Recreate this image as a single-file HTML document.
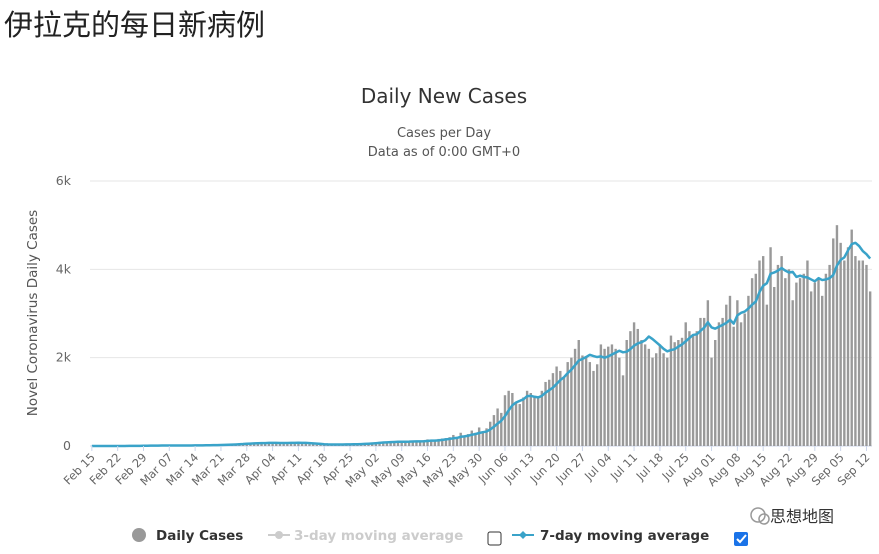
<!DOCTYPE html>
<html><head><meta charset="utf-8"><style>
body{margin:0;background:#fff;width:879px;height:554px;overflow:hidden;font-family:"DejaVu Sans","Noto Sans CJK SC",sans-serif}
</style></head><body>
<div style="position:absolute;left:4px;top:2px;font-size:29px;color:#222;font-family:'Liberation Sans','Noto Sans CJK SC',sans-serif">伊拉克的每日新病例</div>
<svg id="chart" width="879" height="554" style="position:absolute;left:0;top:0;font-family:'DejaVu Sans','Noto Sans CJK SC',sans-serif">
<text x="444" y="103" text-anchor="middle" font-size="20" fill="#333">Daily New Cases</text>
<text x="444" y="137" text-anchor="middle" font-size="13" fill="#555">Cases per Day</text>
<text x="444" y="156" text-anchor="middle" font-size="13" fill="#555">Data as of 0:00 GMT+0</text>
<text transform="translate(37,313) rotate(-90)" text-anchor="middle" font-size="13.5" fill="#555">Novel Coronavirus Daily Cases</text>
<g id="grid"></g><g id="bars"></g><g id="line"></g><g id="xt"></g>
<g>
<g><circle cx="139" cy="535" r="7" fill="#999"/><text x="156" y="540" font-size="13.5" font-weight="bold" fill="#333">Daily Cases</text></g>
<g><line x1="268" y1="535" x2="290" y2="535" stroke="#ccc" stroke-width="2"/><circle cx="279" cy="535" r="4" fill="#ccc"/><text x="294" y="540" font-size="13.5" font-weight="bold" fill="#ccc">3-day moving average</text></g>
<rect x="488" y="532" width="13" height="13" rx="2" fill="#fff" stroke="#333"/>
<g><line x1="512" y1="535" x2="534" y2="535" stroke="#3aa3c9" stroke-width="2"/><path d="M523 531 L527 535 L523 539 L519 535Z" fill="#3aa3c9"/><text x="540" y="540" font-size="13.5" font-weight="bold" fill="#333">7-day moving average</text></g>
<g><rect x="734" y="532" width="14" height="14" rx="2" fill="#1a73e8"/><path d="M737 539 L740 542 L746 535" stroke="#fff" stroke-width="2" fill="none"/></g>
</g>
<g><circle cx="758" cy="515" r="7" fill="none" stroke="#999" stroke-width="1.5"/><circle cx="764" cy="519" r="5" fill="none" stroke="#999" stroke-width="1.5"/><text x="770" y="522" font-size="16" fill="#333" font-family="Noto Sans CJK SC, sans-serif">思想地图</text></g>
</svg>
<script>
const dailyCases=[0,0,0,0,0,0,0, 1,2,3,5,5,5,6, 8,10,12,15,12,14,10, 10,12,15,15,12,10,15, 20,18,15,25,20,22,25, 30,35,40,45,50,60,50, 70,60,75,80,60,70,75, 70,65,60,70,75,80,70, 90,60,50,40,35,30,30, 30,35,40,30,35,40,40, 45,40,50,55,60,70,80, 90,95,100,85,90,100,110, 100,90,110,120,95,100,130, 150,140,120,160,170,180,200, 250,200,300,220,270,350,300, 420,330,400,550,700,850,750, 1150,1250,1200,1000,950,1100,1250, 1200,1100,1100,1250,1450,1500,1650, 1800,1700,1550,1900,2000,2200,2400, 2050,2000,1900,1700,1850,2300,2200, 2250,2300,2200,2000,1600,2400,2600, 2800,2650,2400,2300,2200,2000,2100, 2300,2100,2000,2500,2350,2400,2450, 2800,2600,2500,2600,2900,2900,3300, 2000,2400,2800,2900,3200,3400,2700, 3300,2800,3000,3400,3800,3900,4200, 4300,3200,4500,3600,4100,4300,3800, 4000,3300,3700,3800,3900,4200,3500, 3700,3800,3400,3900,4100,4700,5000, 4600,4200,4500,4900,4300,4200,4200, 4100,3500];
const xLabels=["Feb 15","Feb 22","Feb 29","Mar 07","Mar 14","Mar 21","Mar 28","Apr 04","Apr 11","Apr 18","Apr 25","May 02","May 09","May 16","May 23","May 30","Jun 06","Jun 13","Jun 20","Jun 27","Jul 04","Jul 11","Jul 18","Jul 25","Aug 01","Aug 08","Aug 15","Aug 22","Aug 29","Sep 05","Sep 12"];
const yTicks=[0,2000,4000,6000];
const yTickLabels=["0","2k","4k","6k"];
const NS="http://www.w3.org/2000/svg";
const L=90,R=872,T=181,B=446,YMAX=6000;
const step=(R-L)/dailyCases.length;
const x=i=>L+(i+0.5)*step;
const y=v=>B-(v/YMAX)*(B-T);
function mk(t,a,p){const e=document.createElementNS(NS,t);for(const k in a)e.setAttribute(k,a[k]);p.appendChild(e);return e;}
const grid=document.getElementById('grid');
yTicks.forEach((v,i)=>{
 const ln=mk('line',{x1:L,x2:R,y1:y(v),y2:y(v),stroke:v===0?'#ccd6eb':'#e6e6e6','stroke-width':1},grid);
 
 
 const t=mk('text',{x:71,y:y(v)+4,'text-anchor':'end','font-size':12.5,fill:'#666'},grid);
 t.textContent=yTickLabels[i];
 
 
});
const bars=document.getElementById('bars');
dailyCases.forEach((v,i)=>{
 const r=mk('rect',{x:x(i)-1.2,y:y(v),width:2.4,height:B-y(v),fill:'#999'},bars);
 
 
});
const ma=dailyCases.map((v,i)=>{const s=dailyCases.slice(Math.max(0,i-6),i+1);return s.reduce((a,b)=>a+b,0)/s.length;});
const pl=mk('polyline',{points:ma.map((v,i)=>x(i)+','+y(v)).join(' '),fill:'none',stroke:'#3aa3c9','stroke-width':2.5,'stroke-linejoin':'round'},document.getElementById('line'));


const xt=document.getElementById('xt');
xLabels.forEach((s,k)=>{
 const px=x(k*7);
 mk('line',{x1:px,x2:px,y1:B,y2:B+5,stroke:'#ccd6eb'},xt);
 const t=mk('text',{transform:`translate(${px+4},${B+12}) rotate(-45)`,'text-anchor':'end','font-size':11.5,fill:'#666'},xt);
 t.textContent=s;
 
 
});
</script>
</body></html>
